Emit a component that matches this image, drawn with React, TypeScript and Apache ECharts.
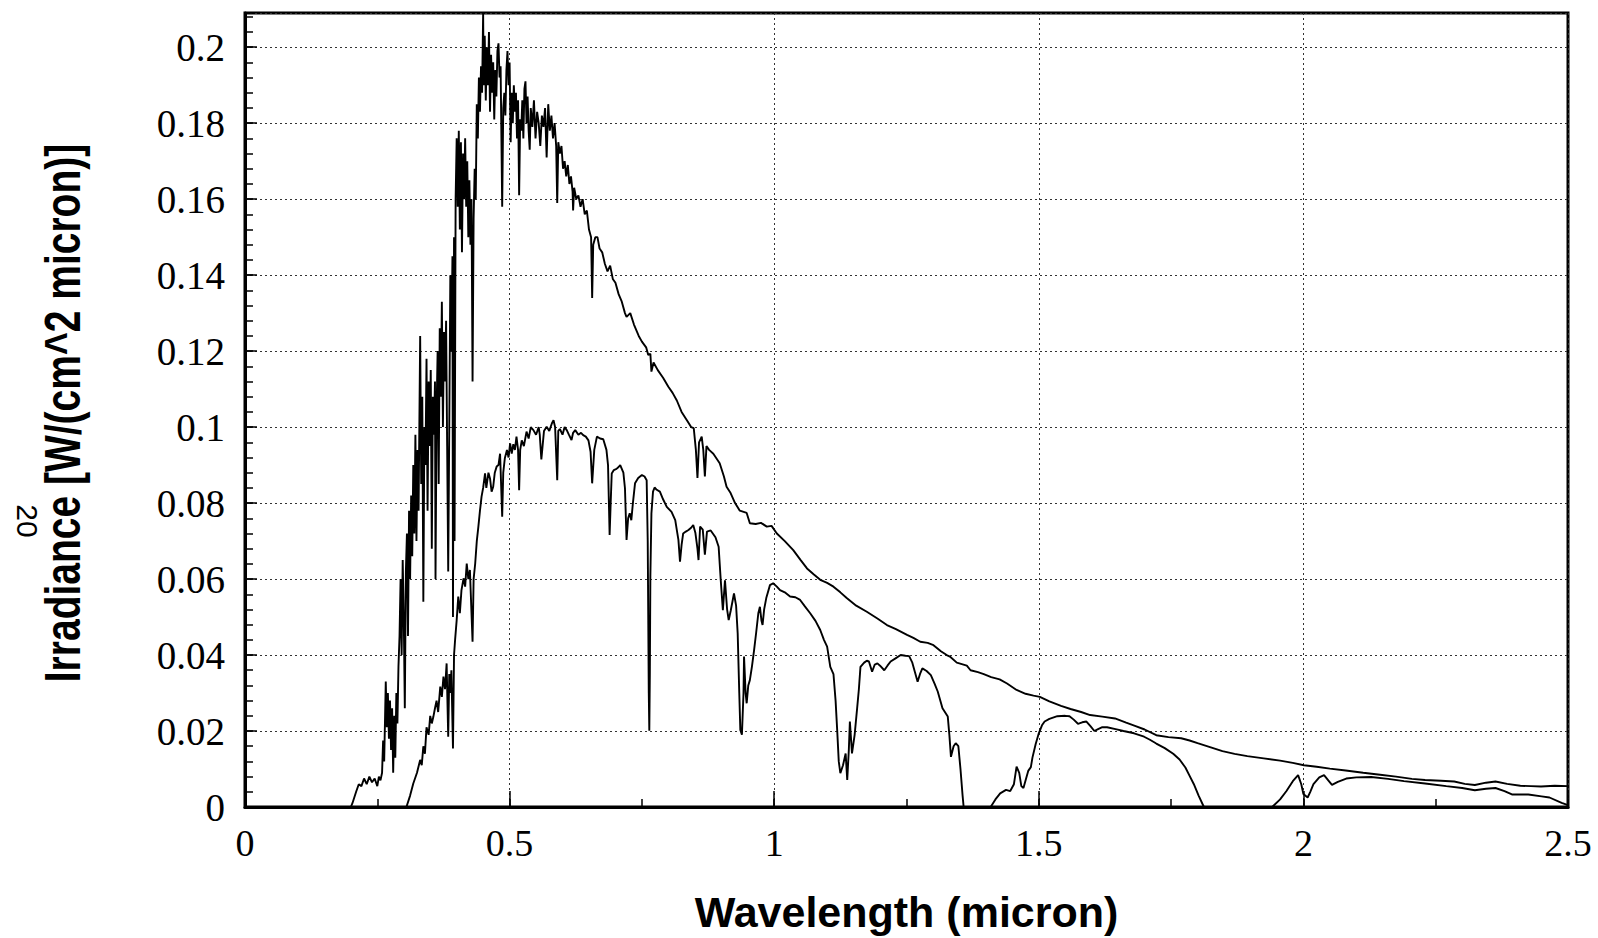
import React, { useEffect, useRef } from "react";
import * as echarts from "echarts";

// Solar spectral irradiance above the atmosphere: [wavelength (micron), W/(cm^2 micron)]
const extraterrestrial: [number, number][] = [
  [0.19, 0], [0.2, 0], [0.203, 0.001], [0.21, 0.004], [0.215, 0.006], [0.22, 0.0055], [0.225, 0.0075],
  [0.23, 0.006], [0.235, 0.008], [0.24, 0.0065], [0.245, 0.0075], [0.25, 0.0055], [0.253, 0.008],
  [0.256, 0.007], [0.259, 0.009], [0.261, 0.0175], [0.263, 0.012], [0.266, 0.033], [0.268, 0.021],
  [0.27, 0.03], [0.272, 0.018], [0.274, 0.028], [0.276, 0.015], [0.278, 0.026], [0.28, 0.009],
  [0.282, 0.024], [0.284, 0.013], [0.286, 0.03], [0.288, 0.022], [0.29, 0.037], [0.292, 0.045],
  [0.294, 0.06], [0.296, 0.04], [0.298, 0.065], [0.3, 0.05], [0.302, 0.026], [0.304, 0.062],
  [0.306, 0.072], [0.308, 0.045], [0.31, 0.078], [0.312, 0.06], [0.314, 0.082], [0.316, 0.066],
  [0.318, 0.09], [0.32, 0.072], [0.322, 0.098], [0.324, 0.07], [0.326, 0.094], [0.328, 0.078],
  [0.331, 0.124], [0.333, 0.085], [0.335, 0.108], [0.337, 0.054], [0.339, 0.1], [0.341, 0.09],
  [0.343, 0.118], [0.345, 0.078], [0.347, 0.112], [0.349, 0.095], [0.351, 0.115], [0.353, 0.068],
  [0.355, 0.108], [0.357, 0.098], [0.359, 0.112], [0.36, 0.06], [0.362, 0.104], [0.364, 0.12],
  [0.366, 0.085], [0.368, 0.126], [0.37, 0.108], [0.372, 0.133], [0.374, 0.1], [0.376, 0.125],
  [0.378, 0.112], [0.38, 0.128], [0.382, 0.095], [0.384, 0.062], [0.386, 0.1], [0.388, 0.14],
  [0.39, 0.12], [0.392, 0.145], [0.393, 0.05], [0.395, 0.15], [0.396, 0.07], [0.398, 0.16],
  [0.4, 0.176], [0.402, 0.158], [0.404, 0.178], [0.406, 0.152], [0.408, 0.175], [0.41, 0.146],
  [0.412, 0.172], [0.414, 0.16], [0.416, 0.176], [0.418, 0.158], [0.42, 0.17], [0.422, 0.15],
  [0.424, 0.165], [0.426, 0.148], [0.428, 0.16], [0.43, 0.112], [0.432, 0.155], [0.434, 0.168],
  [0.436, 0.16], [0.438, 0.185], [0.44, 0.176], [0.442, 0.192], [0.444, 0.183], [0.446, 0.195],
  [0.448, 0.188], [0.45, 0.209], [0.451, 0.19], [0.453, 0.203], [0.455, 0.186], [0.457, 0.2],
  [0.459, 0.19], [0.461, 0.204], [0.463, 0.183], [0.465, 0.198], [0.467, 0.188], [0.469, 0.196],
  [0.471, 0.181], [0.473, 0.194], [0.475, 0.187], [0.477, 0.199], [0.479, 0.201], [0.481, 0.192],
  [0.483, 0.195], [0.486, 0.158], [0.488, 0.184], [0.49, 0.188], [0.492, 0.182], [0.494, 0.194],
  [0.496, 0.199], [0.498, 0.19], [0.5, 0.196], [0.502, 0.175], [0.504, 0.188], [0.506, 0.18],
  [0.508, 0.19], [0.51, 0.183], [0.512, 0.188], [0.514, 0.176], [0.516, 0.186], [0.518, 0.161],
  [0.52, 0.181], [0.522, 0.178], [0.524, 0.186], [0.526, 0.176], [0.528, 0.189], [0.53, 0.191],
  [0.532, 0.18], [0.534, 0.187], [0.536, 0.178], [0.538, 0.173], [0.54, 0.184], [0.543, 0.179],
  [0.546, 0.186], [0.549, 0.176], [0.552, 0.183], [0.555, 0.18], [0.558, 0.174], [0.561, 0.182],
  [0.564, 0.179], [0.567, 0.184], [0.57, 0.171], [0.573, 0.185], [0.576, 0.178], [0.579, 0.182],
  [0.582, 0.176], [0.585, 0.18], [0.588, 0.174], [0.59, 0.159], [0.592, 0.175], [0.595, 0.172],
  [0.598, 0.174], [0.601, 0.168], [0.604, 0.17], [0.607, 0.166], [0.61, 0.169], [0.613, 0.164],
  [0.616, 0.166], [0.619, 0.162], [0.62, 0.157], [0.622, 0.163], [0.626, 0.16], [0.63, 0.161],
  [0.634, 0.158], [0.638, 0.16], [0.642, 0.156], [0.646, 0.157], [0.65, 0.152], [0.654, 0.15],
  [0.656, 0.134], [0.658, 0.148], [0.662, 0.15], [0.666, 0.15], [0.67, 0.147], [0.675, 0.146],
  [0.68, 0.143], [0.685, 0.141], [0.69, 0.1425], [0.695, 0.139], [0.7, 0.138], [0.706, 0.135],
  [0.712, 0.133], [0.718, 0.13], [0.721, 0.129], [0.728, 0.13], [0.735, 0.127], [0.744, 0.124],
  [0.75, 0.1225], [0.758, 0.121], [0.762, 0.119], [0.766, 0.1193], [0.768, 0.1146], [0.772, 0.117],
  [0.78, 0.115], [0.79, 0.113], [0.8, 0.1106], [0.808, 0.109], [0.816, 0.107], [0.825, 0.104],
  [0.835, 0.1018], [0.843, 0.1], [0.848, 0.0997], [0.852, 0.094], [0.855, 0.0866], [0.858, 0.096],
  [0.863, 0.0975], [0.866, 0.094], [0.869, 0.087], [0.872, 0.095], [0.877, 0.094], [0.885, 0.093],
  [0.897, 0.0905], [0.905, 0.087], [0.91, 0.0843], [0.917, 0.0828], [0.926, 0.08], [0.935, 0.078],
  [0.948, 0.0774], [0.954, 0.0747], [0.965, 0.0745], [0.975, 0.0748], [0.986, 0.0738], [0.995, 0.074],
  [1.005, 0.072], [1.02, 0.07], [1.036, 0.0676], [1.05, 0.065], [1.062, 0.0628], [1.075, 0.0612],
  [1.087, 0.0598], [1.1, 0.059], [1.112, 0.058], [1.125, 0.0565], [1.137, 0.055], [1.155, 0.053],
  [1.175, 0.0514], [1.195, 0.0496], [1.213, 0.0479], [1.23, 0.0468], [1.251, 0.0453], [1.263, 0.0445],
  [1.276, 0.0435], [1.29, 0.0432], [1.301, 0.0426], [1.315, 0.041], [1.326, 0.04], [1.332, 0.0396],
  [1.345, 0.038], [1.364, 0.0372], [1.371, 0.036], [1.385, 0.0355], [1.396, 0.035], [1.41, 0.0342],
  [1.426, 0.0336], [1.44, 0.0325], [1.458, 0.0308], [1.475, 0.0298], [1.49, 0.0293], [1.502, 0.029],
  [1.52, 0.0278], [1.542, 0.0266], [1.56, 0.0258], [1.58, 0.025], [1.597, 0.0242], [1.62, 0.0238],
  [1.644, 0.0233], [1.665, 0.0222], [1.683, 0.0213], [1.7, 0.0204], [1.722, 0.0189], [1.745, 0.0184],
  [1.769, 0.0181], [1.785, 0.0175], [1.8, 0.0168], [1.825, 0.0157], [1.847, 0.0147], [1.87, 0.014],
  [1.894, 0.0134], [1.925, 0.0128], [1.956, 0.0122], [1.98, 0.0116], [2.001, 0.011], [2.025, 0.0106],
  [2.05, 0.0101], [2.08, 0.0096], [2.113, 0.009], [2.145, 0.0085], [2.175, 0.008], [2.205, 0.0074],
  [2.23, 0.0071], [2.26, 0.0069], [2.285, 0.0067], [2.305, 0.0061], [2.324, 0.0058], [2.345, 0.0064],
  [2.363, 0.0067], [2.385, 0.0061], [2.41, 0.0056], [2.43, 0.0055], [2.449, 0.0054], [2.475, 0.0056],
  [2.5, 0.0055],
];

// Irradiance reaching the ground after atmospheric absorption
const surface: [number, number][] = [
  [0.29, 0], [0.305, 0], [0.312, 0.003], [0.318, 0.0062], [0.325, 0.009], [0.331, 0.0124], [0.334, 0.011],
  [0.337, 0.016], [0.34, 0.014], [0.343, 0.021], [0.347, 0.019], [0.35, 0.024], [0.353, 0.022],
  [0.356, 0.0238], [0.359, 0.026], [0.362, 0.028], [0.365, 0.025], [0.369, 0.0317], [0.372, 0.029],
  [0.375, 0.0343], [0.378, 0.031], [0.381, 0.0378], [0.384, 0.0185], [0.386, 0.035], [0.388, 0.03],
  [0.39, 0.036], [0.393, 0.0154], [0.395, 0.04], [0.397, 0.044], [0.4, 0.0492], [0.403, 0.0554],
  [0.406, 0.051], [0.409, 0.057], [0.413, 0.0602], [0.416, 0.058], [0.419, 0.0641], [0.422, 0.06],
  [0.425, 0.0624], [0.43, 0.0435], [0.432, 0.06], [0.435, 0.0641], [0.438, 0.07], [0.441, 0.0738],
  [0.444, 0.078], [0.447, 0.0817], [0.45, 0.084], [0.4536, 0.0878], [0.456, 0.084], [0.46, 0.088],
  [0.463, 0.0865], [0.466, 0.083], [0.469, 0.0843], [0.472, 0.088], [0.4755, 0.0896], [0.479, 0.09],
  [0.482, 0.093], [0.486, 0.0764], [0.488, 0.088], [0.491, 0.0918], [0.495, 0.094], [0.498, 0.092],
  [0.501, 0.0957], [0.504, 0.093], [0.507, 0.0955], [0.51, 0.094], [0.513, 0.0975], [0.516, 0.094],
  [0.518, 0.0834], [0.52, 0.094], [0.523, 0.0965], [0.527, 0.095], [0.532, 0.0988], [0.536, 0.097],
  [0.54, 0.1], [0.545, 0.0992], [0.55, 0.098], [0.555, 0.1], [0.557, 0.098], [0.56, 0.0915],
  [0.565, 0.099], [0.57, 0.1001], [0.575, 0.099], [0.58, 0.101], [0.583, 0.1018], [0.586, 0.1],
  [0.59, 0.086], [0.592, 0.099], [0.595, 0.0995], [0.6, 0.098], [0.604, 0.1], [0.608, 0.0992],
  [0.612, 0.098], [0.617, 0.0966], [0.62, 0.0985], [0.624, 0.0992], [0.63, 0.098], [0.635, 0.0985],
  [0.639, 0.0979], [0.644, 0.0975], [0.649, 0.0965], [0.653, 0.0935], [0.656, 0.0852], [0.66, 0.094],
  [0.665, 0.0975], [0.671, 0.097], [0.677, 0.0968], [0.683, 0.094], [0.686, 0.09], [0.689, 0.0716],
  [0.691, 0.08], [0.693, 0.0878], [0.697, 0.0887], [0.702, 0.089], [0.706, 0.0895], [0.709, 0.09],
  [0.715, 0.088], [0.718, 0.0839], [0.721, 0.0703], [0.724, 0.076], [0.727, 0.0773], [0.73, 0.0755],
  [0.733, 0.08], [0.737, 0.0852], [0.743, 0.0866], [0.75, 0.0874], [0.755, 0.087], [0.759, 0.086],
  [0.761, 0.07], [0.763, 0.03], [0.764, 0.0201], [0.765, 0.035], [0.766, 0.0608], [0.768, 0.0773],
  [0.771, 0.083], [0.774, 0.0841], [0.778, 0.0835], [0.784, 0.083], [0.79, 0.081], [0.797, 0.079],
  [0.806, 0.0777], [0.813, 0.0755], [0.817, 0.072], [0.819, 0.0703], [0.822, 0.0646], [0.825, 0.069],
  [0.828, 0.072], [0.833, 0.0725], [0.838, 0.0729], [0.843, 0.0735], [0.847, 0.0742], [0.851, 0.0722],
  [0.855, 0.068], [0.857, 0.065], [0.86, 0.0738], [0.865, 0.073], [0.869, 0.0664], [0.873, 0.0725],
  [0.88, 0.0728], [0.889, 0.071], [0.895, 0.0685], [0.899, 0.0597], [0.903, 0.0518], [0.907, 0.0597],
  [0.911, 0.052], [0.914, 0.0492], [0.918, 0.0518], [0.924, 0.0562], [0.928, 0.053], [0.931, 0.0457],
  [0.934, 0.03], [0.936, 0.0203], [0.939, 0.019], [0.942, 0.03], [0.943, 0.0396], [0.946, 0.03],
  [0.948, 0.0273], [0.951, 0.032], [0.954, 0.0334], [0.958, 0.037], [0.962, 0.0413], [0.966, 0.046],
  [0.97, 0.051], [0.973, 0.0527], [0.976, 0.049], [0.978, 0.0479], [0.981, 0.052], [0.985, 0.055],
  [0.992, 0.0584], [0.998, 0.0589], [1.005, 0.058], [1.011, 0.0571], [1.02, 0.0565], [1.03, 0.0554],
  [1.04, 0.0552], [1.049, 0.0545], [1.058, 0.0528], [1.068, 0.051], [1.078, 0.049], [1.087, 0.0466],
  [1.094, 0.044], [1.1, 0.0422], [1.106, 0.0369], [1.112, 0.035], [1.116, 0.028], [1.119, 0.0203],
  [1.122, 0.012], [1.125, 0.0089], [1.13, 0.011], [1.135, 0.0141], [1.138, 0.0071], [1.141, 0.015],
  [1.143, 0.0225], [1.147, 0.0141], [1.152, 0.019], [1.157, 0.0264], [1.16, 0.031], [1.163, 0.0369],
  [1.17, 0.038], [1.175, 0.0385], [1.179, 0.0383], [1.185, 0.0356], [1.19, 0.0375], [1.195, 0.0378],
  [1.2, 0.0372], [1.208, 0.036], [1.214, 0.0372], [1.22, 0.0383], [1.23, 0.0392], [1.239, 0.04],
  [1.248, 0.0398], [1.255, 0.0397], [1.261, 0.038], [1.266, 0.0355], [1.271, 0.033], [1.276, 0.0352],
  [1.28, 0.0365], [1.288, 0.0358], [1.296, 0.0347], [1.303, 0.0325], [1.309, 0.0304], [1.318, 0.026],
  [1.328, 0.0238], [1.331, 0.019], [1.334, 0.0132], [1.339, 0.016], [1.343, 0.0168], [1.348, 0.016],
  [1.352, 0.01], [1.356, 0.003], [1.358, 0], [1.409, 0], [1.418, 0.002], [1.427, 0.0036], [1.438, 0.0045],
  [1.446, 0.0042], [1.453, 0.006], [1.458, 0.0106], [1.463, 0.009], [1.467, 0.0055], [1.471, 0.005],
  [1.476, 0.0075], [1.48, 0.0095], [1.485, 0.0105], [1.488, 0.013], [1.494, 0.0165], [1.5, 0.0194],
  [1.506, 0.0215], [1.511, 0.0225], [1.52, 0.0232], [1.535, 0.0239], [1.55, 0.024], [1.558, 0.0239],
  [1.566, 0.023], [1.574, 0.0219], [1.582, 0.0223], [1.59, 0.0225], [1.598, 0.0212], [1.605, 0.02],
  [1.612, 0.0205], [1.62, 0.021], [1.629, 0.021], [1.645, 0.0205], [1.66, 0.02], [1.68, 0.0194],
  [1.699, 0.0185], [1.71, 0.0177], [1.722, 0.0167], [1.738, 0.0155], [1.754, 0.014], [1.766, 0.0125],
  [1.777, 0.0104], [1.785, 0.0082], [1.793, 0.006], [1.802, 0.003], [1.812, 0], [1.941, 0],
  [1.956, 0.002], [1.968, 0.0042], [1.98, 0.0068], [1.99, 0.0084], [1.996, 0.006], [2.0, 0.0034],
  [2.008, 0.0025], [2.013, 0.004], [2.019, 0.006], [2.03, 0.0078], [2.039, 0.0084], [2.047, 0.007],
  [2.054, 0.0058], [2.065, 0.0066], [2.081, 0.0075], [2.1, 0.0078], [2.128, 0.0079], [2.16, 0.0074],
  [2.19, 0.0068], [2.23, 0.0062], [2.27, 0.0055], [2.3, 0.005], [2.324, 0.0044], [2.345, 0.0048],
  [2.363, 0.005], [2.38, 0.0042], [2.394, 0.0033], [2.425, 0.0033], [2.45, 0.0028], [2.465, 0.0025],
  [2.488, 0.0011], [2.5, 0.0005],
];

// Axis ranges and tick spacing
const xRange = [0, 2.5];
const xMajorStep = 0.5;
const xMinorStep = 0.25;
const yRange = [0, 0.209];
const yMajorStep = 0.02;
const yMinorStep = 0.004;

const xTitle = "Wavelength (micron)";
const yTitle = "Irradiance [W/(cm^2 micron)]";
const yTitleMark = "20";

const serif = "'Liberation Serif', 'Times New Roman', serif";
const sans = "'Liberation Sans', Arial, Helvetica, sans-serif";

function buildOption() {
  const tickOnlyStyle = { color: "#000", width: 1.5 };
  const curveStyle = { color: "#000", width: 1.9 };
  return {
    animation: false,
    backgroundColor: "#ffffff",
    grid: {
      left: 245,
      right: 30,
      top: 13,
      bottom: 131,
      show: true,
      borderColor: "#000",
      borderWidth: 3,
      backgroundColor: "transparent",
    },
    xAxis: [
      {
        type: "value",
        min: xRange[0],
        max: xRange[1],
        interval: xMajorStep,
        position: "bottom",
        name: xTitle,
        nameLocation: "middle",
        nameGap: 83,
        nameTextStyle: { fontFamily: sans, fontWeight: "bold", fontSize: 43, color: "#000" },
        axisLine: { show: true, onZero: false, lineStyle: { color: "#000", width: 3 } },
        axisTick: { show: true, inside: true, length: 16, lineStyle: tickOnlyStyle },
        axisLabel: { fontFamily: serif, fontSize: 38, color: "#000", margin: 17 },
        splitLine: { show: true, lineStyle: { color: "#333", width: 1, type: [2, 3] } },
      },
      {
        type: "value",
        min: xRange[0],
        max: xRange[1],
        interval: xMinorStep,
        position: "bottom",
        axisLine: { show: false },
        axisLabel: { show: false },
        splitLine: { show: false },
        axisTick: { show: true, inside: true, length: 8, lineStyle: tickOnlyStyle },
      },
    ],
    yAxis: [
      {
        type: "value",
        min: yRange[0],
        max: yRange[1],
        interval: yMajorStep,
        position: "left",
        axisLine: { show: true, onZero: false, lineStyle: { color: "#000", width: 3 } },
        axisTick: { show: true, inside: true, length: 12, lineStyle: tickOnlyStyle },
        axisLabel: { fontFamily: serif, fontSize: 39, color: "#000", margin: 20, showMaxLabel: false },
        splitLine: { show: true, lineStyle: { color: "#333", width: 1, type: [2, 3] } },
      },
      {
        type: "value",
        min: yRange[0],
        max: yRange[1],
        interval: yMinorStep,
        position: "left",
        axisLine: { show: false },
        axisLabel: { show: false },
        splitLine: { show: false },
        axisTick: { show: true, inside: true, length: 8, lineStyle: tickOnlyStyle },
      },
    ],
    graphic: [
      {
        type: "text",
        x: 63,
        y: 413,
        rotation: Math.PI / 2,
        scaleY: 1.3,
        style: {
          text: yTitle,
          fontFamily: sans,
          fontWeight: "bold",
          fontSize: 39,
          fill: "#000",
          align: "center",
          verticalAlign: "middle",
        },
      },
      {
        type: "text",
        x: 27,
        y: 521,
        rotation: -Math.PI / 2,
        style: {
          text: yTitleMark,
          fontFamily: sans,
          fontSize: 30,
          fill: "#000",
          align: "center",
          verticalAlign: "middle",
        },
      },
    ],
    series: [
      {
        name: "Extraterrestrial",
        type: "line",
        xAxisIndex: 0,
        yAxisIndex: 0,
        data: extraterrestrial,
        showSymbol: false,
        symbol: "none",
        lineStyle: curveStyle,
        z: 3,
      },
      {
        name: "Surface",
        type: "line",
        xAxisIndex: 0,
        yAxisIndex: 0,
        data: surface,
        showSymbol: false,
        symbol: "none",
        lineStyle: curveStyle,
        z: 3,
      },
    ],
  };
}

export default function App() {
  const ref = useRef<HTMLDivElement>(null);
  useEffect(() => {
    document.body.style.margin = "0";
    const chart = echarts.init(ref.current as HTMLDivElement, null, { renderer: "svg" });
    chart.setOption(buildOption() as any);
    return () => chart.dispose();
  }, []);
  return <div ref={ref} style={{ width: 1598, height: 938, background: "#fff" }} />;
}
